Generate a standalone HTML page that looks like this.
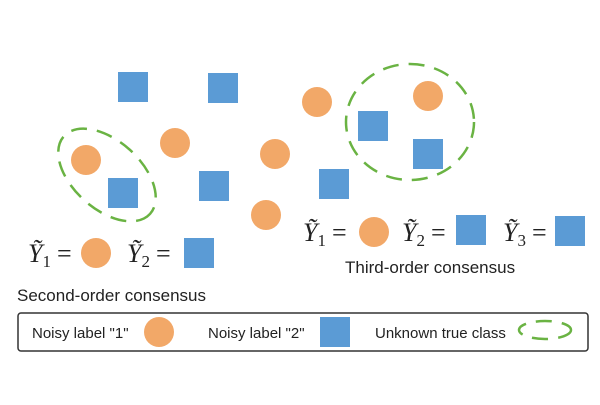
<!DOCTYPE html>
<html><head><style>body{margin:0;background:#fff}</style></head><body>
<svg width="600" height="400" viewBox="0 0 600 400" xmlns="http://www.w3.org/2000/svg">
<g fill="#5b9bd5">
<rect x="118" y="72" width="30" height="30"/>
<rect x="208" y="73" width="30" height="30"/>
<rect x="108" y="178" width="30" height="30"/>
<rect x="199" y="171" width="30" height="30"/>
<rect x="358" y="111" width="30" height="30"/>
<rect x="413" y="139" width="30" height="30"/>
<rect x="319" y="169" width="30" height="30"/>
<rect x="184" y="238" width="30" height="30"/>
<rect x="456" y="215" width="30" height="30"/>
<rect x="555" y="216" width="30" height="30"/>
<rect x="320" y="317" width="30" height="30"/>
</g>
<g fill="#f2a868">
<circle cx="86" cy="160" r="15"/>
<circle cx="175" cy="143" r="15"/>
<circle cx="275" cy="154" r="15"/>
<circle cx="266" cy="215" r="15"/>
<circle cx="317" cy="102" r="15"/>
<circle cx="428" cy="96" r="15"/>
<circle cx="96" cy="253" r="15"/>
<circle cx="374" cy="232" r="15"/>
<circle cx="159" cy="332" r="15"/>
</g>
<g fill="none" stroke="#6ab343" stroke-width="2.5" stroke-dasharray="16,10">
<ellipse cx="107" cy="175" rx="58" ry="34" transform="rotate(42 107 175)"/>
<ellipse cx="410" cy="122" rx="64" ry="58"/>
<ellipse cx="545" cy="330" rx="26" ry="9"/>
</g>
<rect x="18" y="313" width="570" height="38" rx="3" fill="none" stroke="#333" stroke-width="1.5"/>
<g font-family="Liberation Serif, serif" font-size="26" fill="#222">
<text x="28" y="262"><tspan font-style="italic">Ỹ</tspan><tspan font-size="17" dy="5">1</tspan><tspan dy="-5" dx="6">=</tspan></text>
<text x="127" y="262"><tspan font-style="italic">Ỹ</tspan><tspan font-size="17" dy="5">2</tspan><tspan dy="-5" dx="6">=</tspan></text>
<text x="303" y="241"><tspan font-style="italic">Ỹ</tspan><tspan font-size="17" dy="5">1</tspan><tspan dy="-5" dx="6">=</tspan></text>
<text x="402" y="241"><tspan font-style="italic">Ỹ</tspan><tspan font-size="17" dy="5">2</tspan><tspan dy="-5" dx="6">=</tspan></text>
<text x="503" y="241"><tspan font-style="italic">Ỹ</tspan><tspan font-size="17" dy="5">3</tspan><tspan dy="-5" dx="6">=</tspan></text>
</g>
<g font-family="Liberation Sans, sans-serif" fill="#222">
<text x="17" y="301" font-size="17">Second-order consensus</text>
<text x="345" y="273" font-size="17">Third-order consensus</text>
<text x="32" y="338" font-size="15">Noisy label "1"</text>
<text x="208" y="338" font-size="15">Noisy label "2"</text>
<text x="375" y="338" font-size="15">Unknown true class</text>
</g>
</svg>
</body></html>
